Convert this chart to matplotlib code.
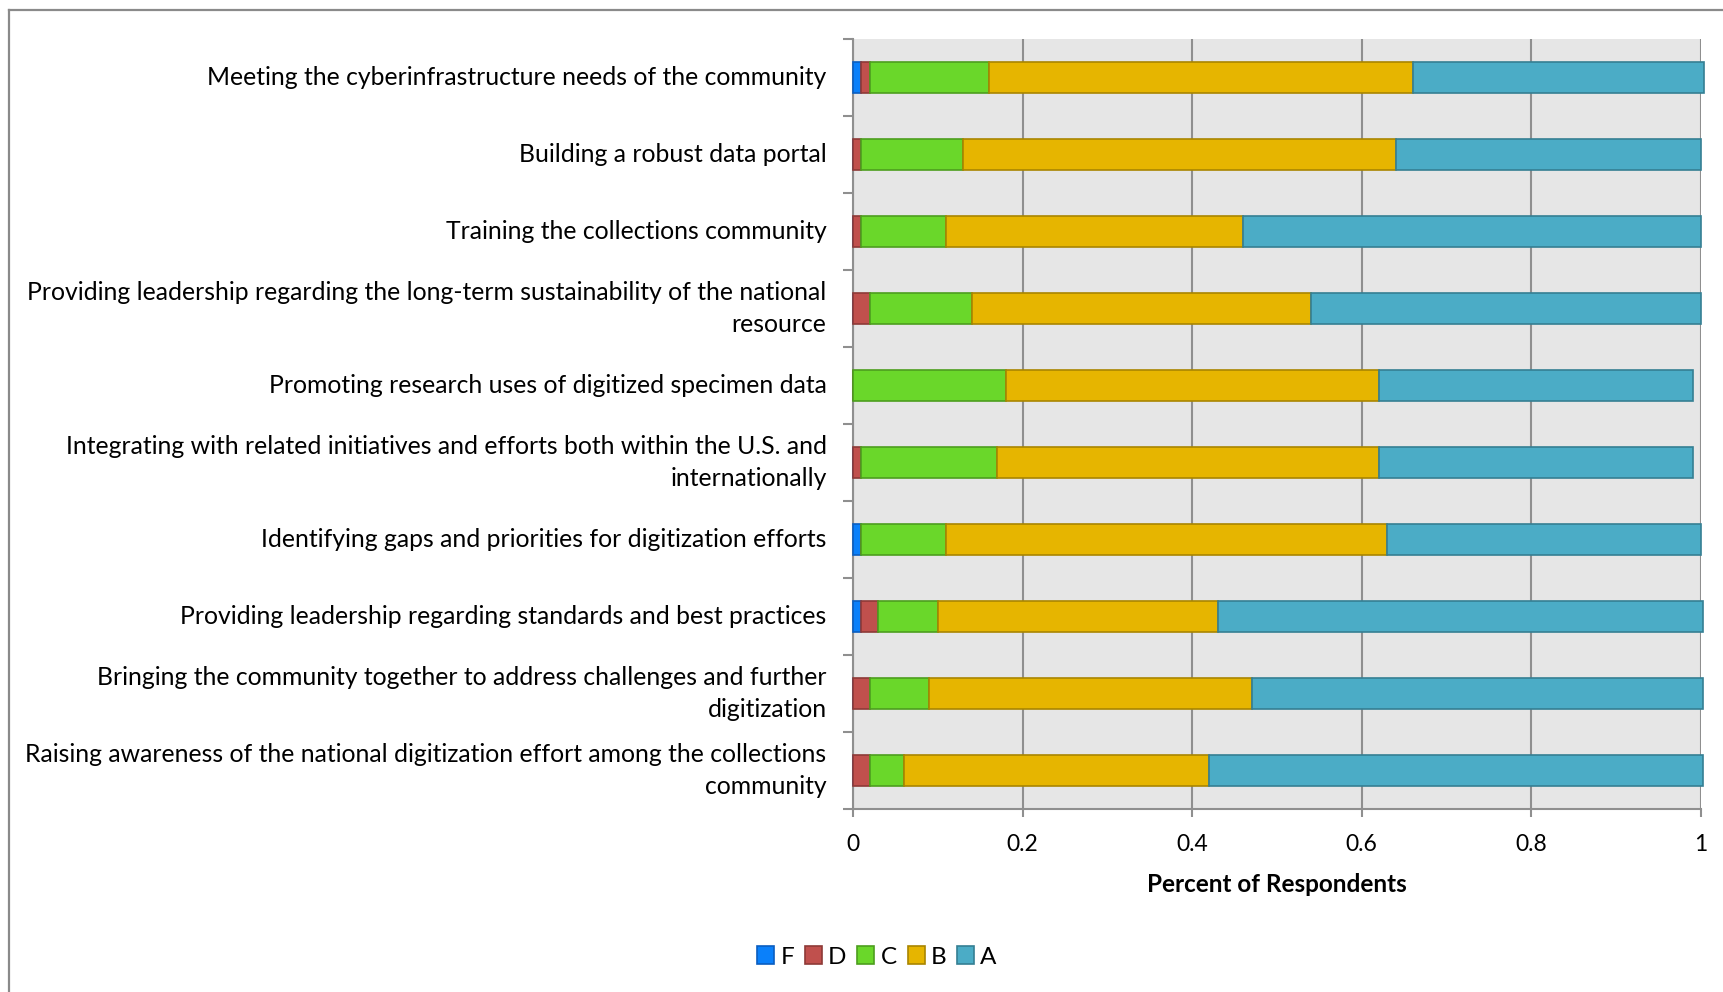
import matplotlib
matplotlib.use("Agg")
import matplotlib.pyplot as plt
import numpy as np
from matplotlib.patches import Patch
from matplotlib.lines import Line2D

plt.rcParams['font.family'] = ['Lato', 'DejaVu Sans']

categories = [
    "Meeting the cyberinfrastructure needs of the community",
    "Building a robust data portal",
    "Training the collections community",
    "Providing leadership regarding the long-term sustainability of the national\nresource",
    "Promoting research uses of digitized specimen data",
    "Integrating with related initiatives and efforts both within the U.S. and\ninternationally",
    "Identifying gaps and priorities for digitization efforts",
    "Providing leadership regarding standards and best practices",
    "Bringing the community together to address challenges and further\ndigitization",
    "Raising awareness of the national digitization effort among the collections\ncommunity",
]
grade_F = [0.01, 0.00, 0.00, 0.00, 0.00, 0.00, 0.01, 0.01, 0.00, 0.00]
grade_D = [0.01, 0.01, 0.01, 0.02, 0.00, 0.01, 0.00, 0.02, 0.02, 0.02]
grade_C = [0.14, 0.12, 0.10, 0.12, 0.18, 0.16, 0.10, 0.07, 0.07, 0.04]
grade_B = [0.50, 0.51, 0.35, 0.40, 0.44, 0.45, 0.52, 0.33, 0.38, 0.36]
grade_A = [0.343, 0.36, 0.54, 0.46, 0.37, 0.37, 0.37, 0.572, 0.532, 0.582]
series_names = ["F", "D", "C", "B", "A"]
x_ticks = [0, 0.2, 0.4, 0.6, 0.8, 1.0]
x_ticklabels = ["0", "0.2", "0.4", "0.6", "0.8", "1"]

faces = ['#0A80FA', '#C0504D', '#6AD72A', '#E6B500', '#4BACC6']
edges = ['#0A5EC0', '#8E3A37', '#4D9E1E', '#A98500', '#357F93']

W, H = 1723, 992
fig = plt.figure(figsize=(W / 100, H / 100), dpi=100)

# outer frame (left & top)
fig.add_artist(Line2D([9 / W, 9 / W], [0, 1 - 10 / H], transform=fig.transFigure, color='#8A8A8A', lw=1.6))
fig.add_artist(Line2D([9 / W, 1], [1 - 10 / H, 1 - 10 / H], transform=fig.transFigure, color='#8A8A8A', lw=1.6))

ax_left, ax_right = 853 / W, 1701 / W
ax_top, ax_bottom = 39 / H, 809 / H
ax = fig.add_axes([ax_left, 1 - ax_bottom, ax_right - ax_left, ax_bottom - ax_top])
ax.set_facecolor('#E6E6E6')

n = len(categories)
y = np.arange(n)
series = [grade_F, grade_D, grade_C, grade_B, grade_A]
left = np.zeros(n)
for name, vals, fc, ec in zip(series_names, series, faces, edges):
    vals = np.array(vals)
    ax.barh(y, vals, left=left, height=0.41, color=fc, edgecolor=ec, linewidth=1.2,
            label=name, zorder=3, clip_on=False)
    left = left + vals

ax.set_xlim(0, 1)
ax.set_ylim(n - 0.5, -0.5)

ax.set_xticks(x_ticks)
ax.set_xticklabels(x_ticklabels, fontsize=16.5)
ax.xaxis.grid(True, color='#8F8F8F', lw=1.5, zorder=1)
ax.tick_params(axis='x', length=6, width=1.5, color='#8F8F8F', pad=12)

ax.set_yticks(y)
ax.set_yticklabels(categories, fontsize=17.8, linespacing=1.5)
for lbl in ax.get_yticklabels():
    lbl.set_verticalalignment('center')
ax.tick_params(axis='y', which='major', length=0, pad=19)
ax.set_yticks(np.arange(n + 1) - 0.5, minor=True)
ax.tick_params(axis='y', which='minor', length=7, width=1.5, color='#8F8F8F')

for s in ['top', 'right']:
    ax.spines[s].set_visible(False)
for s in ['left', 'bottom']:
    ax.spines[s].set_color('#8F8F8F')
    ax.spines[s].set_linewidth(1.5)

ax.set_xlabel("Percent of Respondents", fontsize=17.5, fontweight='bold', labelpad=13)

handles = [Patch(facecolor=fc, edgecolor=ec, linewidth=1.2) for fc, ec in zip(faces, edges)]
fig.legend(handles, series_names, loc='center', bbox_to_anchor=(877 / W, 1 - 957 / H),
           ncol=5, frameon=False, fontsize=17.5, handlelength=0.7, handleheight=0.7,
           handletextpad=0.25, columnspacing=0.45)

fig.savefig("out.png", dpi=100)
